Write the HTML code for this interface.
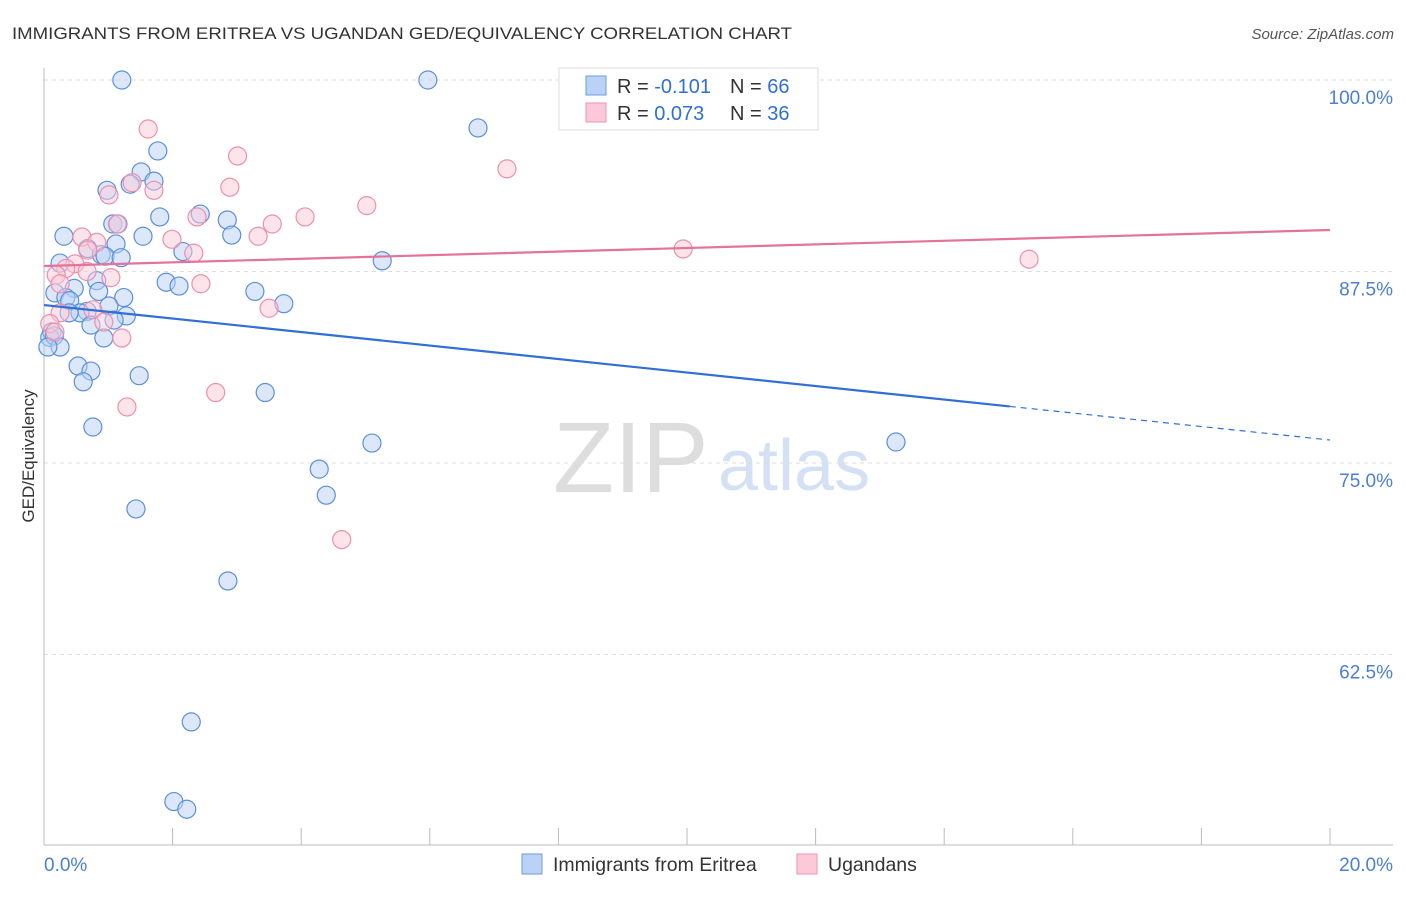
<!DOCTYPE html>
<html><head><meta charset="utf-8"><style>
body{margin:0;background:#fff;font-family:"Liberation Sans",sans-serif}
svg text{font-family:"Liberation Sans",sans-serif}
</style></head><body>
<svg id="c" width="1406" height="892" xmlns="http://www.w3.org/2000/svg">
<text x="12" y="39" font-size="17" fill="#333" textLength="780" lengthAdjust="spacingAndGlyphs">IMMIGRANTS FROM ERITREA VS UGANDAN GED/EQUIVALENCY CORRELATION CHART</text>
<text x="1394" y="39" font-size="15" fill="#555" font-style="italic" text-anchor="end">Source: ZipAtlas.com</text>
<text x="553" y="492" font-size="100" fill="#ddd" font-family="Liberation Serif">ZIP</text>
<text x="718" y="490" font-size="72" fill="#d4e1f5">atlas</text>
<text transform="translate(34,456) rotate(-90)" font-size="17" fill="#333" text-anchor="middle">GED/Equivalency</text>
<g id="grid"></g><g id="axes"></g><g id="pts"></g><g id="lines"></g>
<g>
<rect x="559" y="68" width="259" height="62" fill="#fff" stroke="#ddd"/>
<rect x="586" y="76" width="20" height="19" fill="#b9d2f5" stroke="#6b9de0"/>
<rect x="586" y="103" width="20" height="19" fill="#fcc9d8" stroke="#ee93b0"/>
<text x="617" y="93" font-size="20" fill="#333">R = <tspan fill="#2f6fd6">-0.101</tspan></text>
<text x="730" y="93" font-size="20" fill="#333">N = <tspan fill="#2f6fd6">66</tspan></text>
<text x="617" y="120" font-size="20" fill="#333">R = <tspan fill="#2f6fd6"> 0.073</tspan></text>
<text x="730" y="120" font-size="20" fill="#333">N = <tspan fill="#2f6fd6">36</tspan></text>
</g>
<g>
<rect x="522" y="854" width="20" height="20" fill="#b9d2f5" stroke="#6b9de0"/>
<text x="553" y="871" font-size="19.5" fill="#333">Immigrants from Eritrea</text>
<rect x="797" y="854" width="20" height="20" fill="#fcc9d8" stroke="#ee93b0"/>
<text x="828" y="871" font-size="19.5" fill="#333">Ugandans</text>
</g>
</svg>
<script>
const blueX=[1.21,5.97,6.75,1.77,1.51,1.71,1.34,0.98,1.80,2.43,2.85,1.07,1.15,1.54,0.31,2.92,1.12,0.68,0.89,0.95,1.20,2.16,5.26,0.25,1.90,2.10,0.82,0.47,0.17,0.85,3.28,0.34,0.40,1.24,3.73,1.01,0.67,0.56,0.39,1.28,1.09,0.73,0.12,0.09,0.16,0.93,0.25,0.06,0.53,0.73,0.61,1.48,3.44,0.76,5.10,13.25,4.28,4.39,1.43,2.86,2.29,2.02,2.22];
const blueY=[100,100,96.87,95.37,94.0,93.4,93.2,92.8,91.06,91.25,90.86,90.6,90.6,89.8,89.8,89.88,89.3,89.0,88.6,88.5,88.4,88.8,88.2,88.05,86.8,86.55,86.9,86.4,86.1,86.2,86.2,85.8,85.6,85.8,85.4,85.25,84.9,84.8,84.8,84.6,84.33,84.0,83.55,83.2,83.3,83.16,82.57,82.57,81.33,81.0,80.3,80.7,79.6,77.35,76.3,76.37,74.6,72.9,72.0,67.3,58.1,52.9,52.4];
const pinkX=[1.62,3.01,7.20,2.89,1.37,1.71,1.01,5.02,4.06,2.38,3.55,1.14,3.33,1.99,0.59,0.82,0.68,9.94,2.33,15.32,0.48,0.34,0.67,0.19,1.04,2.44,0.25,0.76,3.50,0.25,0.93,0.09,0.17,1.21,2.67,1.29,4.63];
const pinkY=[96.8,95.04,94.2,93.0,93.3,92.8,92.5,91.8,91.06,91.06,90.6,90.6,89.8,89.6,89.75,89.4,88.9,88.97,88.7,88.3,88.0,87.7,87.5,87.27,87.1,86.7,86.7,85.0,85.1,84.8,84.2,84.1,83.55,83.16,79.6,78.66,70.0];
const blueTrend=[85.31,76.5]; const blueSolidEnd=15.02;
const pinkTrend=[87.86,90.21];
const yTicks=[100,87.5,75,62.5];
const yTickLabels=["100.0%","87.5%","75.0%","62.5%"];
const xTickLabels=["0.0%","20.0%"];
const NS="http://www.w3.org/2000/svg";
const sx=v=>44+v/20*1286, sy=v=>80+(100-v)/12.5*191.5;
function mk(t,a,p){const e=document.createElementNS(NS,t);for(const k in a)e.setAttribute(k,a[k]);document.getElementById(p).appendChild(e);return e;}
yTicks.forEach((t,i)=>{
 const g=mk('line',{x1:44,x2:1393,y1:sy(t),y2:sy(t),stroke:'#ddd','stroke-dasharray':'4,4'},'grid');
 
 
 const l=mk('text',{x:1393,y:sy(t)+24,'font-size':19,fill:'#4a7fd4','text-anchor':'end'},'grid');
 l.textContent=yTickLabels[i];
 
 
});
let a=mk('line',{x1:44,x2:44,y1:68,y2:845,stroke:'#bbb'},'axes');


a=mk('line',{x1:44,x2:1393,y1:845,y2:845,stroke:'#bbb'},'axes');


for(let i=0;i<=10;i++){const t=mk('line',{x1:sx(i*2),x2:sx(i*2),y1:828,y2:845,stroke:'#bbb'},'axes');
 
 }
xTickLabels.forEach((s,i)=>{const t=mk('text',{x:i?1393:44,y:871,'font-size':19,fill:'#4a7fd4','text-anchor':i?'end':'start'},'axes');t.textContent=s;
 
 });
function dots(X,Y,f,s,n){X.forEach((x,i)=>{const c=mk('circle',{cx:sx(x),cy:sy(Y[i]),r:9,fill:f,'fill-opacity':0.5,stroke:s,'stroke-width':1.2},'pts');
 
 });}
dots(blueX,blueY,'#b9d2f5','#5b8fdc','eritrea-point');
dots(pinkX,pinkY,'#fcc9d8','#ec8fae','ugandan-point');
const bAt=x=>blueTrend[0]+(blueTrend[1]-blueTrend[0])*x/20;
let l=mk('line',{x1:sx(0),y1:sy(bAt(0)),x2:sx(blueSolidEnd),y2:sy(bAt(blueSolidEnd)),stroke:'#2f6fd6','stroke-width':2.2},'lines');


l=mk('line',{x1:sx(blueSolidEnd),y1:sy(bAt(blueSolidEnd)),x2:sx(20),y2:sy(bAt(20)),stroke:'#2f6fd6','stroke-width':1.2,'stroke-dasharray':'6,5'},'lines');


l=mk('line',{x1:sx(0),y1:sy(pinkTrend[0]),x2:sx(20),y2:sy(pinkTrend[1]),stroke:'#e5729a','stroke-width':2.2},'lines');


</script>
</body></html>
